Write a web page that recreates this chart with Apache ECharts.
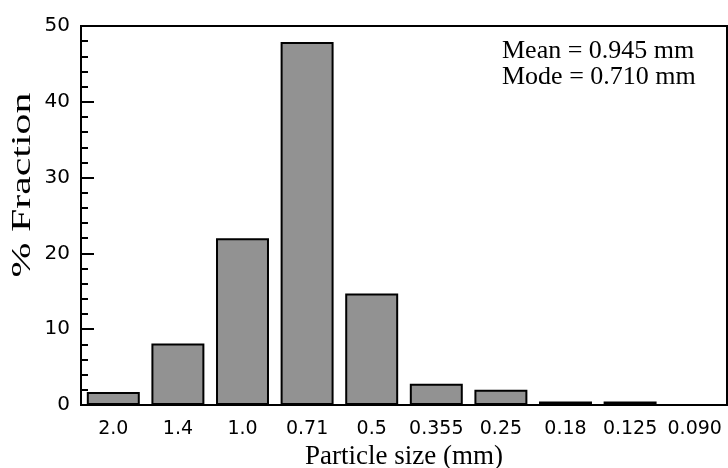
<!DOCTYPE html>
<html>
<head>
<meta charset="utf-8">
<script src="https://cdn.jsdelivr.net/npm/echarts@6/dist/echarts.min.js"></script>
<style>
	html, body { margin: 0; padding: 0; background: #fff; }
	#chart { width: 728px; height: 468px; }
</style>
</head>
<body>
<div id="chart"></div>
<script>
	// 粒径分组（mm）
	var sizes = ['2.0', '1.4', '1.0', '0.71', '0.5', '0.355', '0.25', '0.18', '0.125', '0.090'];
	// 各分组百分比
	var fraction = [1.7, 8.1, 22.0, 47.9, 14.7, 2.8, 2.0, 0.45, 0.45, 0];
	var notes = ['Mean = 0.945 mm', 'Mode = 0.710 mm'];

	var myChart = echarts.init(document.getElementById('chart'));
	var sans = 'DejaVu Sans, Verdana, sans-serif';
	var serif = 'Liberation Serif, Times New Roman, serif';

	var option = {
		animation: false,
		grid: {
			left: 81, right: 1, top: 26, bottom: 63,
			outerBoundsMode: 'none',
			containLabel: false,
			show: true,
			borderColor: '#000',
			borderWidth: 2
		},
		xAxis: {
			type: 'category',
			data: sizes,
			name: 'Particle size (mm)',
			nameLocation: 'middle',
			nameGap: 28,
			nameTextStyle: { fontFamily: serif, fontSize: 27, color: '#000' },
			axisLine: { lineStyle: { color: '#000', width: 2 } },
			axisTick: { inside: true, length: 9, lineStyle: { color: '#000', width: 2 } },
			axisLabel: { fontFamily: sans, fontSize: 19, color: '#000', margin: 15, interval: 0 }
		},
		yAxis: {
			type: 'value',
			min: 0, max: 50, interval: 10,
			splitLine: { show: false },
			axisLine: { show: true, lineStyle: { color: '#000', width: 2 } },
			axisTick: { show: true, inside: true, length: 13, lineStyle: { color: '#000', width: 2 } },
			minorTick: { show: true, splitNumber: 5, length: 7, lineStyle: { color: '#000', width: 2 } },
			axisLabel: { fontFamily: sans, fontSize: 20, color: '#000', margin: 11 }
		},
		graphic: [
			{
				// 纵轴标题（原图中被拉长）
				type: 'text',
				x: 23,
				y: 185,
				rotation: Math.PI / 2,
				scaleX: 1.55,
				style: {
					text: '% Fraction',
					font: '27px ' + serif,
					align: 'center',
					verticalAlign: 'middle',
					fill: '#000'
				}
			},
			{
				type: 'text',
				left: 502,
				top: 38,
				style: {
					text: notes.join('\n'),
					font: '26px ' + serif,
					lineHeight: 26,
					fill: '#000'
				}
			}
		],
		series: [
			{
				type: 'bar',
				data: fraction,
				barCategoryGap: '18%',
				itemStyle: { color: '#929292', borderColor: '#000', borderWidth: 2 }
			}
		]
	};

	option && myChart.setOption(option);
</script>
</body>
</html>
